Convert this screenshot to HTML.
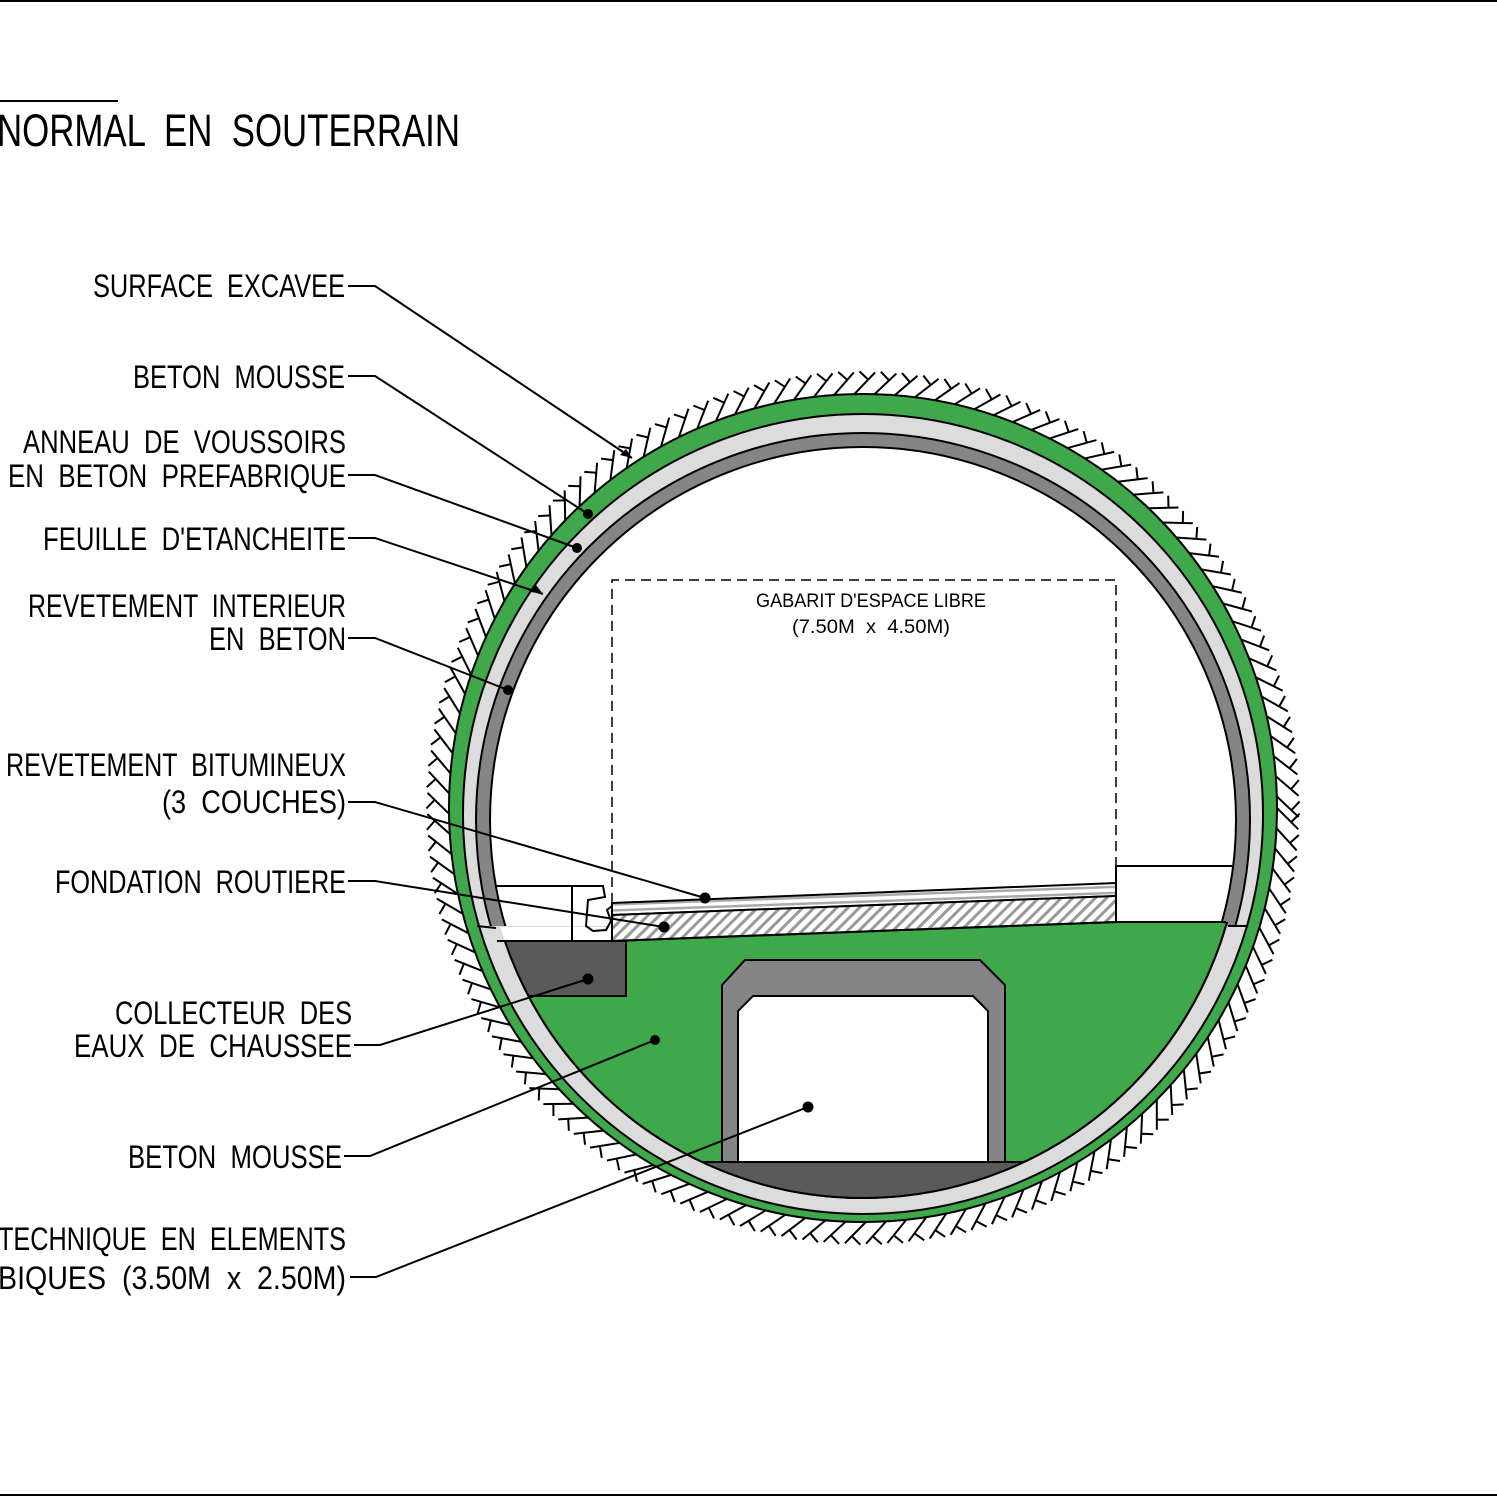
<!DOCTYPE html>
<html><head><meta charset="utf-8"><style>
html,body{margin:0;padding:0;background:#fff}
svg{display:block}
text{font-family:"Liberation Sans",sans-serif;fill:#000;white-space:pre}
</style></head><body>
<svg id="s" width="1497" height="1497" viewBox="0 0 1497 1497" xmlns="http://www.w3.org/2000/svg" xml:space="preserve">
<defs>
<clipPath id="up"><rect x="0" y="0" width="1497" height="926"/></clipPath>
<clipPath id="low"><polygon points="400,941 612,941 1116,922 1300,922 1300,1300 400,1300"/></clipPath>
<clipPath id="inner"><circle cx="863" cy="820" r="378"/></clipPath>
<pattern id="hat" width="8" height="8" patternUnits="userSpaceOnUse" patternTransform="rotate(45)">
<rect width="8" height="8" fill="#fff"/><rect width="3" height="8" fill="#999"/></pattern>
<pattern id="asp" width="6" height="6" patternUnits="userSpaceOnUse" patternTransform="rotate(-2)">
<rect width="6" height="6" fill="#fff"/><rect width="6" height="2.5" fill="#aaa"/></pattern>
</defs>
<line x1="0" y1="1" x2="1497" y2="1" stroke="#000" stroke-width="2"/>
<line x1="0" y1="1495" x2="1497" y2="1495" stroke="#000" stroke-width="2"/>
<line x1="0" y1="101" x2="118" y2="101" stroke="#000" stroke-width="2"/>
<text x="-3" y="146" font-size="45" textLength="463" lengthAdjust="spacingAndGlyphs">NORMAL  EN  SOUTERRAIN</text>

<g id="hatch" stroke="#000" stroke-width="2"></g>

<circle cx="863" cy="808" r="414" fill="#3ea84a" stroke="#000" stroke-width="2"/>
<circle cx="863" cy="814" r="400" fill="#dcdcdc" stroke="#000" stroke-width="2"/>
<g clip-path="url(#up)">
<circle cx="863" cy="820" r="387" fill="#858585" stroke="#000" stroke-width="2"/>
<circle cx="863" cy="820" r="373" fill="#fff" stroke="#000" stroke-width="2"/>
</g>
<line x1="477" y1="926" x2="496" y2="928" stroke="#000" stroke-width="2"/>
<line x1="1228" y1="926" x2="1248" y2="926" stroke="#000" stroke-width="2"/>
<g clip-path="url(#inner)"><rect x="470" y="927" width="142" height="14" fill="#fff"/></g>
<circle cx="863" cy="820" r="378" fill="#fff" clip-path="url(#low)"/>
<circle cx="863" cy="820" r="378" fill="#3ea84a" stroke="#000" stroke-width="2" clip-path="url(#low)"/>
<g clip-path="url(#inner)">
<rect x="480" y="941" width="146" height="55" fill="#5a5a5a" stroke="#000" stroke-width="2"/>
<rect x="700" y="1162" width="330" height="60" fill="#5a5a5a" stroke="#000" stroke-width="2"/>
</g>
<circle cx="863" cy="820" r="378" fill="none" stroke="#000" stroke-width="2" clip-path="url(#low)"/>
<path d="M745,960 H980 L1005,985 V1162 H722 V985 Z" fill="#858585" stroke="#000" stroke-width="2"/>
<path d="M753,996 H973 L988,1011 V1162 H738 V1011 Z" fill="#fff" stroke="#000" stroke-width="2"/>

<!-- road -->
<polygon points="612,903 1116,883 1116,896 612,915" fill="url(#asp)" stroke="#000" stroke-width="2"/>
<polygon points="612,915 1116,896 1116,922 612,941" fill="url(#hat)" stroke="#000" stroke-width="2"/>
<line x1="612" y1="941" x2="1116" y2="922" stroke="#000" stroke-width="2"/>
<polyline points="497,886 603,886 605,897 588,900 586,926 593,931 606,930 611,921 607,910 612,906" fill="none" stroke="#000" stroke-width="2"/>
<line x1="497" y1="941" x2="626" y2="941" stroke="#000" stroke-width="2"/>
<line x1="572" y1="886" x2="572" y2="941" stroke="#000" stroke-width="2"/>
<polyline points="1116,922 1116,866 1232,866" fill="none" stroke="#000" stroke-width="2"/>
<line x1="1116" y1="922" x2="1226" y2="922" stroke="#000" stroke-width="2"/>
<polyline points="612,903 612,580 1116,580 1116,883" fill="none" stroke="#000" stroke-width="1.5" stroke-dasharray="10,6"/>
<text x="871" y="607" font-size="19" text-anchor="middle" textLength="230" lengthAdjust="spacingAndGlyphs">GABARIT D'ESPACE LIBRE</text>
<text x="871" y="633" font-size="19" text-anchor="middle" textLength="158" lengthAdjust="spacingAndGlyphs">(7.50M  x  4.50M)</text>

<!-- leaders -->
<g stroke="#000" stroke-width="2" fill="none">
<polyline points="348,286 375,286 632,458"/>
<polyline points="348,376 375,376 588,514"/>
<polyline points="348,475 375,475 577,548"/>
<polyline points="348,538 375,538 543,594"/>
<polyline points="348,638 375,638 508,690"/>
<polyline points="348,802 375,802 705,898"/>
<polyline points="348,881 375,881 664,927"/>
<polyline points="354,1045 380,1045 588,979"/>
<polyline points="344,1156 370,1156 655,1040"/>
<polyline points="350,1277 376,1277 808,1107"/>
</g>
<g fill="#000">
<circle cx="588" cy="514" r="5"/><circle cx="577" cy="548" r="5"/><circle cx="508" cy="690" r="5"/>
<circle cx="705" cy="898" r="5.5"/><circle cx="664" cy="927" r="5.5"/><circle cx="588" cy="979" r="5.5"/>
<circle cx="655" cy="1040" r="5"/><circle cx="808" cy="1107" r="5.5"/>
<polygon points="632,458 620,455 626,449"/><polygon points="543,594 531,592 536,585"/>
</g>

<g font-size="32">
<text x="93" y="297" textLength="252" lengthAdjust="spacingAndGlyphs">SURFACE  EXCAVEE</text>
<text x="133" y="388" textLength="212" lengthAdjust="spacingAndGlyphs">BETON  MOUSSE</text>
<text x="23" y="453" textLength="323" lengthAdjust="spacingAndGlyphs">ANNEAU  DE  VOUSSOIRS</text>
<text x="8" y="487" textLength="338" lengthAdjust="spacingAndGlyphs">EN  BETON  PREFABRIQUE</text>
<text x="43" y="550" textLength="303" lengthAdjust="spacingAndGlyphs">FEUILLE  D'ETANCHEITE</text>
<text x="28" y="617" textLength="318" lengthAdjust="spacingAndGlyphs">REVETEMENT  INTERIEUR</text>
<text x="209" y="650" textLength="137" lengthAdjust="spacingAndGlyphs">EN  BETON</text>
<text x="6" y="776" textLength="340" lengthAdjust="spacingAndGlyphs">REVETEMENT  BITUMINEUX</text>
<text x="162" y="813" textLength="184" lengthAdjust="spacingAndGlyphs">(3  COUCHES)</text>
<text x="55" y="893" textLength="291" lengthAdjust="spacingAndGlyphs">FONDATION  ROUTIERE</text>
<text x="115" y="1024" textLength="237" lengthAdjust="spacingAndGlyphs">COLLECTEUR  DES</text>
<text x="74" y="1057" textLength="278" lengthAdjust="spacingAndGlyphs">EAUX  DE  CHAUSSEE</text>
<text x="128" y="1168" textLength="214" lengthAdjust="spacingAndGlyphs">BETON  MOUSSE</text>
<text x="-2" y="1250" textLength="348" lengthAdjust="spacingAndGlyphs">TECHNIQUE  EN  ELEMENTS</text>
<text x="-2" y="1289" textLength="348" lengthAdjust="spacingAndGlyphs">BIQUES  (3.50M  x  2.50M)</text>
</g>
</svg>
<script>
(function(){
var g=document.getElementById('hatch'),cx=863,cy=808,R=414,out="";
for(var a=0;a<360;a+=2.8){
 var t=a*Math.PI/180,nx=Math.cos(t),ny=Math.sin(t);
 var px=cx+R*nx,py=cy+R*ny;
 var d=Math.PI/4,dx=Math.cos(t+d),dy=Math.sin(t+d);
 var ex=px+30*dx,ey=py+30*dy;
 out+='<line x1="'+px+'" y1="'+py+'" x2="'+ex+'" y2="'+ey+'"/>';
 var mx=px+20*dx,my=py+20*dy,qx=Math.cos(t-d),qy=Math.sin(t-d);
 out+='<line x1="'+mx+'" y1="'+my+'" x2="'+(mx+12*qx)+'" y2="'+(my+12*qy)+'"/>';
}
g.innerHTML=out;
})();
</script>
</body></html>
